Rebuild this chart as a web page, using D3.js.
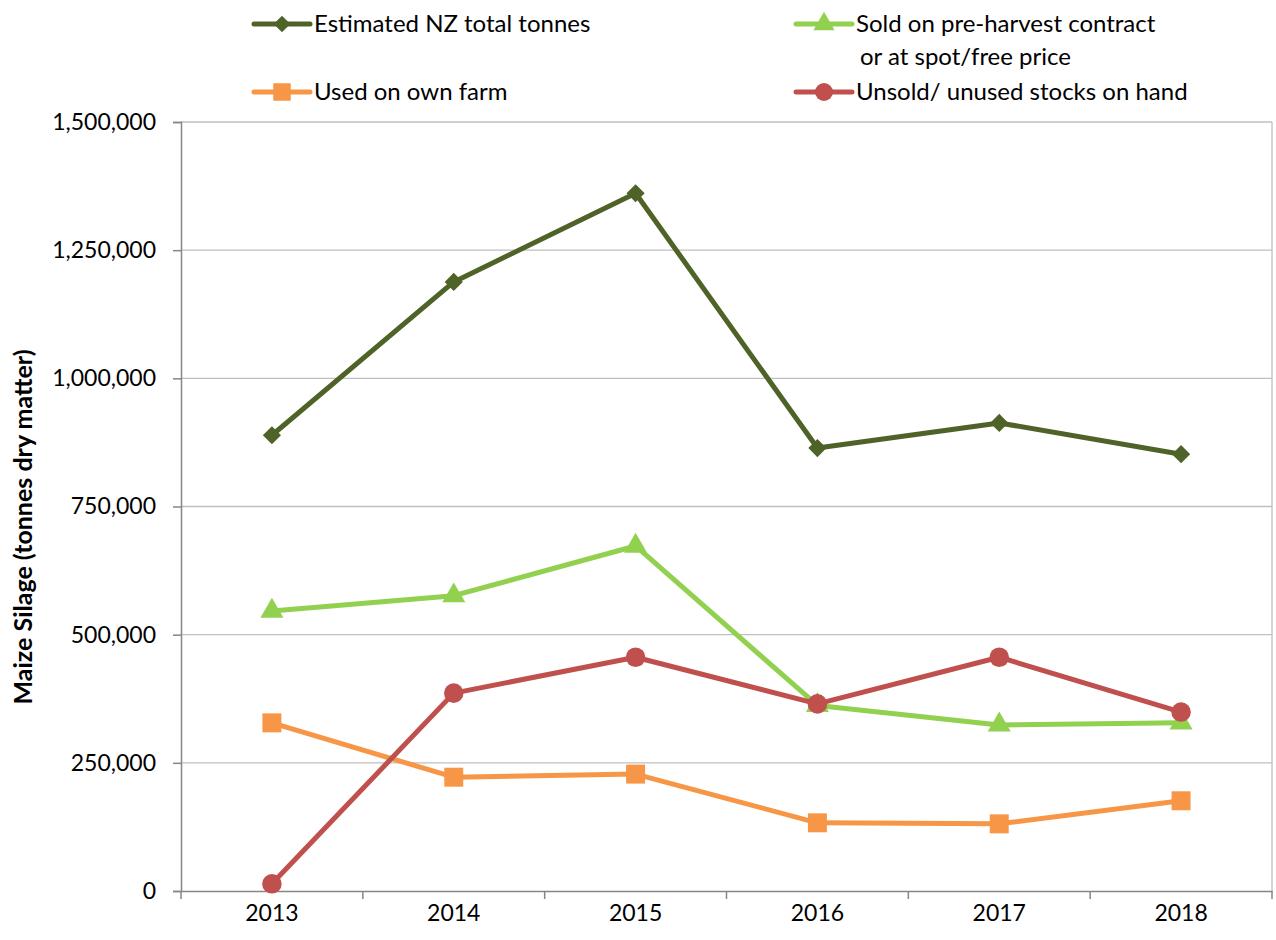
<!DOCTYPE html>
<html>
<head>
<meta charset="utf-8">
<script src="https://cdn.jsdelivr.net/npm/d3@7"></script>
<style>
  body { margin: 0; background: #fff; }
  text { font-family: Lato, "Open Sans", sans-serif; fill: #000; }
</style>
</head>
<body>
<div id="chart"></div>
<script>
// Data
var years = ["2013", "2014", "2015", "2016", "2017", "2018"];
var totalTonnes = [889000, 1188000, 1361000, 864000, 913000, 852000];
var soldTonnes = [546000, 576000, 673000, 362000, 324000, 328000];
var ownFarmTonnes = [328000, 222000, 228000, 133000, 131000, 176000];
var unsoldTonnes = [14000, 386000, 456000, 365000, 456000, 349000];
var yTicks = [0, 250000, 500000, 750000, 1000000, 1250000, 1500000];

var series = [
  {name: "Estimated NZ total tonnes", values: totalTonnes, color: "#4f6228", symbol: d3.symbolSquare, size: 165, rotate: 45},
  {name: "Sold on pre-harvest contract", name2: "or at spot/free price", values: soldTonnes, color: "#92d050", symbol: d3.symbolTriangle, size: 230, rotate: 0},
  {name: "Used on own farm", values: ownFarmTonnes, color: "#f79646", symbol: d3.symbolSquare, size: 360, rotate: 0},
  {name: "Unsold/ unused stocks on hand", values: unsoldTonnes, color: "#c0504d", symbol: d3.symbolCircle, size: 300, rotate: 0}
];

var W = 1276, H = 940;
var margin = {top: 122, right: 4, bottom: 49, left: 181},
    width = W - margin.left - margin.right,
    height = H - margin.top - margin.bottom;

var svg = d3.select("#chart").append("svg")
    .attr("width", W)
    .attr("height", H);

var g = svg.append("g")
    .attr("transform", "translate(" + margin.left + "," + margin.top + ")");

var x = d3.scaleBand().domain(years).range([0, width]);
var y = d3.scaleLinear().domain([0, 1500000]).range([height, 0]);

// gridlines
g.append("g")
    .selectAll("line")
    .data(yTicks.slice(1))
    .enter().append("line")
    .attr("x1", 0).attr("x2", width)
    .attr("y1", function(d) { return y(d); })
    .attr("y2", function(d) { return y(d); })
    .attr("stroke", "#bfbfbf")
    .attr("stroke-width", 1.3);

// right border
g.append("line")
    .attr("x1", width).attr("x2", width)
    .attr("y1", 0).attr("y2", height)
    .attr("stroke", "#bfbfbf")
    .attr("stroke-width", 1.3);

// y axis
var yAxis = g.append("g")
    .call(d3.axisLeft(y).tickValues(yTicks).tickSize(8).tickPadding(17)
        .tickFormat(d3.format(",")));
yAxis.select(".domain").attr("stroke", "#868686").attr("stroke-width", 1.5);
yAxis.selectAll(".tick line").attr("stroke", "#868686").attr("stroke-width", 1.5);
yAxis.selectAll("text").style("font-size", "23px").style("font-family", "Lato, sans-serif");

// x axis
var xAxis = g.append("g")
    .attr("transform", "translate(0," + height + ")")
    .call(d3.axisBottom(x).tickSize(0).tickPadding(14));
xAxis.select(".domain").attr("stroke", "#868686").attr("stroke-width", 1.5);
xAxis.selectAll("text").style("font-size", "23px").style("font-family", "Lato, sans-serif");
// category boundary ticks
xAxis.selectAll(".bound")
    .data(years.concat(["end"]))
    .enter().append("line")
    .attr("class", "bound")
    .attr("x1", function(d, i) { return i * x.step(); })
    .attr("x2", function(d, i) { return i * x.step(); })
    .attr("y1", 0).attr("y2", 8)
    .attr("stroke", "#868686")
    .attr("stroke-width", 1.5);

// y title
svg.append("text")
    .attr("transform", "translate(32,527) rotate(-90)")
    .attr("text-anchor", "middle")
    .style("font-size", "25px")
    .style("font-weight", "bold")
    .text("Maize Silage (tonnes dry matter)");

var line = d3.line()
    .x(function(d, i) { return x(years[i]) + x.bandwidth() / 2; })
    .y(function(d) { return y(d); });

series.forEach(function(s) {
  g.append("path")
      .datum(s.values)
      .attr("d", line)
      .attr("fill", "none")
      .attr("stroke", s.color)
      .attr("stroke-width", 5)
      .attr("stroke-linejoin", "round");
});
series.forEach(function(s) {
  g.selectAll(null)
      .data(s.values)
      .enter().append("path")
      .attr("d", d3.symbol().type(s.symbol).size(s.size))
      .attr("transform", function(d, i) {
        return "translate(" + (x(years[i]) + x.bandwidth() / 2) + "," + y(d) + ") rotate(" + s.rotate + ")";
      })
      .attr("fill", s.color);
});

// legend
var legendPos = [[254, 24], [796, 24], [254, 92], [796, 92]];
series.forEach(function(s, i) {
  var lg = svg.append("g")
      .attr("transform", "translate(" + legendPos[i][0] + "," + legendPos[i][1] + ")");
  lg.append("line")
      .attr("x1", 0).attr("x2", 56)
      .attr("stroke", s.color)
      .attr("stroke-width", 5)
      .attr("stroke-linecap", "round");
  lg.append("path")
      .attr("d", d3.symbol().type(s.symbol).size(s.size * 0.85))
      .attr("transform", "translate(28,0) rotate(" + s.rotate + ")")
      .attr("fill", s.color);
  lg.append("text")
      .attr("x", 60).attr("dy", "0.35em")
      .style("font-size", "24px")
      .text(s.name);
  if (s.name2) {
    lg.append("text")
        .attr("x", 64).attr("y", 33).attr("dy", "0.35em")
        .style("font-size", "24px")
        .text(s.name2);
  }
});
</script>
</body>
</html>
